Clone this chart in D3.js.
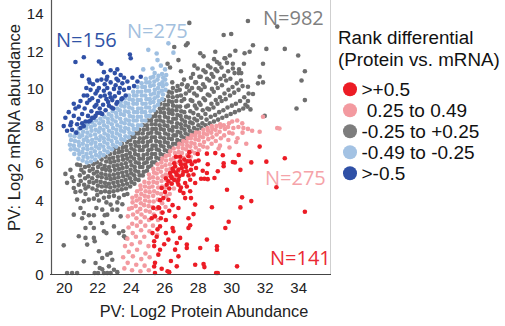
<!DOCTYPE html>
<html><head><meta charset="utf-8">
<script src="https://cdn.jsdelivr.net/npm/d3@7"></script>
<style>body{margin:0;background:#fff;}svg{display:block;}</style>
</head><body><svg id="c" width="505" height="326"></svg>
<script>
const xTicks=[20,22,24,26,28,30,32,34];
const yTicks=[0,2,4,6,8,10,12,14];
const legendTitle=["Rank differential","(Protein vs. mRNA)"];
const legendLabels=[">+0.5"," 0.25 to 0.49","-0.25 to +0.25","-0.49 to -0.25",">-0.5"];
const countLabels=["N=141","N=275","N=982","N=275","N=156"];

const red=[[28.0,6.45],[28.55,6.47],[29.05,6.5],[29.5,6.38],[30.1,6.02],[30.22,6.0],[27.45,6.33],[27.55,6.06],[28.05,6.1],[28.6,5.9],[29.2,5.52],[29.55,5.79],[28.55,5.43],[29.0,5.16],[28.2,5.12],[28.4,5.12],[28.6,5.1],[29.75,4.53],[28.85,3.59],[29.65,2.47],[28.55,1.85],[29.15,1.49],[29.15,1.3],[30.35,0.41],[27.85,0.5],[28.35,0.54],[28.4,0.37],[29.1,0.05],[29.2,0.05],[27.55,2.62],[28.15,1.4],[27.35,1.58],[27.35,1.4],[26.75,1.67],[26.95,1.94],[26.65,1.31],[26.85,0.95],[26.25,1.85],[25.4,1.76],[25.4,1.5],[25.65,1.04],[25.45,0.6],[25.4,0.4],[25.85,0.28],[26.2,0.15],[26.3,0.1],[25.45,0.05],[26.75,0.41],[27.45,3.0],[27.75,3.22],[27.45,2.47],[26.5,2.47],[26.55,2.3],[25.75,2.56],[25.6,2.4],[25.25,3.0],[25.8,3.0],[25.65,3.58],[26.65,3.1],[26.85,3.55],[27.6,4.08],[27.85,3.73],[27.25,4.08],[27.15,4.35],[27.55,4.45],[26.95,4.48],[26.85,4.8],[27.25,4.89],[27.55,5.07],[27.85,4.89],[26.25,4.98],[26.45,4.85],[25.85,4.62],[26.05,4.41],[25.95,4.08],[26.25,3.99],[25.7,3.55],[25.35,3.55],[26.75,5.34],[26.55,5.52],[26.85,5.61],[27.05,5.7],[27.25,5.88],[26.65,5.79],[26.35,5.43],[26.45,5.16],[26.85,5.07],[27.1,5.34],[27.35,5.52],[27.4,6.06],[26.95,6.06],[26.15,4.8],[25.75,3.97],[25.45,3.1],
[31.7,6.85],[33.2,6.22],[32.1,6.04],[31.2,6.0],[30.55,5.6],[32.7,4.66],[30.65,4.12],[31.2,3.92],[30.55,3.58],[34.4,3.35],[29.85,2.81],[30.45,6.4],[29.55,5.95],
[26.6,5.95],[26.7,5.45],[26.9,5.25],[27.0,5.9],[27.15,5.5],[27.2,6.15],[27.3,5.75],[27.45,5.3],[27.6,5.6],[27.65,5.9],[26.5,5.65],[26.4,5.25],[26.6,5.05],[26.8,4.95],[27.0,4.65],[27.35,4.7],[27.75,5.35],[27.9,5.7],[26.3,4.6],[26.1,5.15],[26.95,6.3],[27.5,6.55],[26.7,6.3],[27.85,6.05],[28.3,5.55],
[25.9,3.3],[26.1,2.9],[26.3,3.4],[25.55,2.0],[26.0,1.6],[25.75,1.3],[26.4,0.7],[26.1,2.2],[25.3,2.2],[26.5,3.7]];

const pink=[[23.62,0.3],[23.55,0.9],[23.66,1.5],
[23.82,0.6],[23.88,1.2],[23.8,1.9],[23.87,2.5],[23.83,3.1],[23.9,3.5],
[24.08,0.2],[24.13,0.95],[24.06,1.6],[24.12,2.2],[24.09,2.7],[24.14,3.2],[24.07,3.55],[24.11,3.85],[24.1,4.1],
[24.33,0.5],[24.38,1.3],[24.31,2.0],[24.37,2.6],[24.34,3.0],[24.4,3.35],[24.3,3.65],[24.36,3.95],[24.33,4.2],[24.38,4.45],
[24.58,0.15],[24.63,0.8],[24.56,1.7],[24.62,2.35],[24.59,2.8],[24.64,3.2],[24.57,3.5],[24.61,3.8],[24.55,4.05],[24.63,4.3],[24.6,4.55],[24.58,4.75],
[24.83,0.45],[24.88,1.1],[24.81,2.0],[24.87,2.6],[24.84,3.05],[24.9,3.4],[24.8,3.7],[24.86,3.95],[24.83,4.2],[24.89,4.45],[24.85,4.7],[24.82,4.95],
[25.08,0.2],[25.13,0.9],[25.06,1.5],[25.12,2.3],[25.09,2.9],[25.14,3.35],[25.07,3.65],[25.11,3.9],[25.05,4.15],[25.13,4.4],[25.1,4.65],[25.08,4.9],[25.12,5.15],[25.09,5.35],
[25.33,2.6],[25.38,3.2],[25.31,3.6],[25.37,3.9],[25.34,4.2],[25.4,4.45],[25.3,4.7],[25.36,4.95],[25.33,5.2],[25.39,5.45],[25.35,5.65],
[25.58,2.1],[25.63,2.9],[25.56,3.5],[25.62,4.0],[25.59,4.35],[25.64,4.65],[25.57,4.9],[25.61,5.15],[25.55,5.4],[25.63,5.65],[25.6,5.9],
[25.83,3.3],[25.88,3.8],[25.81,4.3],[25.87,4.7],[25.84,5.0],[25.9,5.25],[25.8,5.5],[25.86,5.75],[25.83,6.0],[25.89,6.2],
[26.08,3.6],[26.13,4.2],[26.06,4.65],[26.12,5.05],[26.09,5.35],[26.14,5.6],[26.07,5.85],[26.11,6.1],[26.1,6.35],
[26.33,4.3],[26.38,4.9],[26.31,5.3],[26.37,5.65],[26.34,5.9],[26.4,6.15],[26.3,6.4],[26.36,6.6],
[26.58,4.6],[26.63,5.2],[26.56,5.7],[26.62,6.0],[26.59,6.25],[26.64,6.5],[26.57,6.75],
[26.83,5.5],[26.88,6.0],[26.81,6.3],[26.87,6.55],[26.84,6.8],[26.9,7.0],
[27.08,5.9],[27.13,6.25],[27.06,6.5],[27.12,6.75],[27.09,6.95],[27.14,7.15],
[27.33,6.05],[27.38,6.4],[27.31,6.7],[27.37,6.9],[27.34,7.1],[27.4,7.3],
[27.58,6.3],[27.63,6.6],[27.56,6.85],[27.62,7.05],[27.59,7.3],[27.64,7.45],
[27.83,6.5],[27.88,6.8],[27.81,7.0],[27.87,7.25],[27.84,7.45],[27.9,7.6],
[28.08,6.65],[28.13,6.95],[28.06,7.2],[28.12,7.4],[28.09,7.6],
[28.33,6.85],[28.38,7.1],[28.31,7.35],[28.37,7.55],[28.34,7.75],
[28.58,6.8],[28.63,7.25],[28.56,7.5],[28.62,7.7],[28.59,7.85],
[28.83,7.0],[28.88,7.35],[28.81,7.6],[28.87,7.8],[28.84,7.95],
[29.08,7.15],[29.13,7.5],[29.06,7.75],[29.12,7.95],
[29.33,6.9],[29.38,7.3],[29.31,7.65],[29.37,7.9],[29.34,8.05],
[29.58,7.45],[29.63,7.8],[29.56,8.0],
[29.83,7.2],[29.88,7.6],[29.81,7.9],[29.87,8.1],
[30.08,7.55],[30.13,7.85],[30.06,8.2],
[30.38,7.3],[30.43,7.9],[30.36,8.25],
[30.68,7.6],[30.73,7.85],[30.66,8.1],
[31.0,7.8],[31.9,8.45],[32.75,7.85],[32.88,7.82],[31.25,7.7],[30.9,7.0],[31.7,7.65],[29.9,6.8],[29.25,6.75],[30.3,7.1]];

const gray=[[21.02,5.0],[20.96,5.3],[21.05,5.6],[20.98,5.85],
[21.22,4.8],[21.28,5.15],[21.2,5.45],[21.27,5.75],
[21.47,4.7],[21.53,4.95],[21.46,5.25],[21.55,5.55],[21.5,5.8],
[21.72,4.6],[21.78,4.9],[21.7,5.15],[21.8,5.4],[21.74,5.65],[21.77,5.9],
[21.97,4.5],[22.04,4.75],[21.96,5.0],[22.03,5.25],[21.99,5.5],[22.05,5.75],[21.98,6.0],
[22.22,4.4],[22.28,4.7],[22.21,4.95],[22.27,5.2],[22.24,5.4],[22.3,5.65],[22.2,5.9],[22.26,6.15],
[22.47,4.45],[22.53,4.7],[22.46,4.9],[22.55,5.15],[22.49,5.35],[22.52,5.6],[22.45,5.8],[22.54,6.05],[22.5,6.3],
[22.72,4.4],[22.78,4.65],[22.7,4.85],[22.8,5.1],[22.74,5.3],[22.77,5.55],[22.71,5.75],[22.79,6.0],[22.73,6.2],[22.76,6.45],
[22.97,4.45],[23.04,4.7],[22.96,4.9],[23.03,5.15],[22.99,5.35],[23.05,5.6],[22.98,5.8],[23.02,6.05],[22.95,6.25],[23.04,6.5],[23.0,6.7],
[23.22,4.5],[23.28,4.75],[23.21,4.95],[23.27,5.2],[23.24,5.4],[23.3,5.65],[23.2,5.85],[23.26,6.1],[23.23,6.3],[23.29,6.55],[23.25,6.75],
[23.47,4.55],[23.53,4.8],[23.46,5.0],[23.55,5.25],[23.49,5.45],[23.52,5.7],[23.45,5.9],[23.54,6.15],[23.5,6.35],[23.48,6.6],[23.53,6.8],[23.47,7.0],
[23.72,4.6],[23.78,4.85],[23.7,5.05],[23.8,5.3],[23.74,5.5],[23.77,5.75],[23.71,5.95],[23.79,6.2],[23.73,6.4],[23.76,6.65],[23.72,6.85],[23.78,7.1],
[23.97,4.7],[24.04,4.95],[23.96,5.15],[24.03,5.4],[23.99,5.6],[24.05,5.85],[23.98,6.05],[24.02,6.3],[23.95,6.5],[24.04,6.75],[24.0,6.95],[23.97,7.2],[24.03,7.35],
[24.22,4.85],[24.28,5.1],[24.21,5.3],[24.27,5.55],[24.24,5.75],[24.3,6.0],[24.2,6.2],[24.26,6.45],[24.23,6.65],[24.29,6.9],[24.25,7.1],[24.22,7.35],[24.28,7.55],
[24.47,5.05],[24.53,5.3],[24.46,5.5],[24.55,5.75],[24.49,5.95],[24.52,6.2],[24.45,6.4],[24.54,6.65],[24.5,6.85],[24.48,7.1],[24.53,7.3],[24.47,7.55],[24.51,7.75],
[24.72,5.3],[24.78,5.5],[24.7,5.75],[24.8,5.95],[24.74,6.2],[24.77,6.4],[24.71,6.65],[24.79,6.85],[24.73,7.1],[24.76,7.3],[24.72,7.55],[24.78,7.75],[24.74,8.0],
[24.97,5.55],[25.04,5.75],[24.96,6.0],[25.03,6.2],[24.99,6.45],[25.05,6.65],[24.98,6.9],[25.02,7.1],[24.95,7.35],[25.04,7.55],[25.0,7.8],[24.97,8.0],[25.03,8.25],
[25.22,5.8],[25.28,6.0],[25.21,6.25],[25.27,6.45],[25.24,6.7],[25.3,6.9],[25.2,7.15],[25.26,7.35],[25.23,7.6],[25.29,7.8],[25.25,8.05],[25.22,8.25],[25.28,8.45],
[25.47,6.0],[25.53,6.25],[25.46,6.45],[25.55,6.7],[25.49,6.9],[25.52,7.15],[25.45,7.35],[25.54,7.6],[25.5,7.8],[25.48,8.05],[25.53,8.25],[25.47,8.5],[25.51,8.7],
[25.72,6.2],[25.78,6.45],[25.7,6.65],[25.8,6.9],[25.74,7.1],[25.77,7.35],[25.71,7.55],[25.79,7.8],[25.73,8.0],[25.76,8.25],[25.72,8.45],[25.78,8.7],[25.74,8.9],[25.77,9.15],
[25.97,6.4],[26.04,6.65],[25.96,6.85],[26.03,7.1],[25.99,7.3],[26.05,7.55],[25.98,7.75],[26.02,8.0],[25.95,8.2],[26.04,8.45],[26.0,8.65],[25.97,8.9],[26.03,9.1],[25.99,9.35],
[26.22,6.6],[26.28,6.85],[26.21,7.05],[26.27,7.3],[26.24,7.5],[26.3,7.75],[26.2,7.95],[26.26,8.2],[26.23,8.4],[26.29,8.65],[26.25,8.85],[26.22,9.1],[26.28,9.3],[26.24,9.55],[26.27,9.8],
[26.47,6.8],[26.53,7.0],[26.46,7.25],[26.55,7.45],[26.49,7.7],[26.52,7.9],[26.45,8.15],[26.54,8.35],[26.5,8.6],[26.48,8.8],[26.53,9.05],[26.47,9.25],[26.51,9.5],[26.46,9.75],[26.52,10.0],[26.48,10.3],
[26.72,7.0],[26.78,7.2],[26.7,7.45],[26.8,7.65],[26.74,7.9],[26.77,8.1],[26.71,8.35],[26.79,8.55],[26.73,8.8],[26.76,9.0],[26.72,9.3],[26.78,9.55],[26.74,9.85],[26.8,10.1],
[26.97,7.15],[27.04,7.4],[26.96,7.6],[27.03,7.85],[26.99,8.05],[27.05,8.3],[26.98,8.5],[27.02,8.75],[26.95,9.0],[27.04,9.3],[27.0,9.6],[26.93,9.9],[27.06,10.2],
[27.22,7.3],[27.28,7.55],[27.21,7.75],[27.27,8.0],[27.24,8.2],[27.3,8.45],[27.2,8.7],[27.31,9.0],[27.19,9.4],[27.29,9.7],[27.35,10.05],[27.18,10.45],
[27.47,7.45],[27.53,7.7],[27.46,7.9],[27.55,8.15],[27.49,8.4],[27.56,8.75],[27.42,9.05],[27.58,9.35],[27.5,9.85],[27.4,10.15],[27.6,10.55],
[27.72,7.6],[27.78,7.85],[27.7,8.1],[27.8,8.35],[27.74,8.65],[27.83,9.05],[27.68,9.3],[27.79,9.7],[27.66,10.0],[27.85,10.3],[27.72,10.75],
[27.97,7.75],[28.04,8.0],[27.96,8.25],[28.03,8.55],[27.93,8.9],[28.09,9.2],[27.95,9.6],[28.06,10.0],[27.9,10.3],[28.1,10.6],[28.0,11.05],
[28.22,7.85],[28.28,8.1],[28.21,8.4],[28.3,8.8],[28.17,9.1],[28.35,9.45],[28.2,9.9],[28.32,10.2],[28.18,10.6],[28.34,10.95],
[28.47,8.0],[28.53,8.3],[28.46,8.6],[28.58,8.9],[28.44,9.35],[28.6,9.65],[28.42,10.05],[28.56,10.5],[28.47,10.85],[28.62,11.2],
[28.72,8.1],[28.78,8.45],[28.68,8.85],[28.82,9.15],[28.7,9.6],[28.85,9.95],[28.69,10.4],[28.83,10.75],[28.76,11.1],
[28.97,8.2],[29.04,8.55],[28.94,8.95],[29.08,9.35],[28.96,9.8],[29.1,10.25],[28.93,10.6],[29.06,11.0],[28.98,11.55],
[29.22,8.3],[29.28,8.7],[29.18,9.15],[29.33,9.5],[29.2,10.0],[29.36,10.5],[29.17,10.9],[29.3,11.3],
[29.47,8.4],[29.53,8.8],[29.43,9.3],[29.6,9.7],[29.45,10.15],[29.58,10.65],[29.42,11.1],[29.6,11.6],
[29.72,8.5],[29.78,8.95],[29.67,9.4],[29.84,9.9],[29.7,10.4],[29.82,10.9],[29.75,11.35],
[29.97,8.6],[30.04,9.05],[29.93,9.6],[30.08,10.05],[29.95,10.5],[30.1,11.05],[29.92,11.75],
[30.22,8.7],[30.28,9.15],[30.18,9.75],[30.33,10.25],[30.2,10.8],
[30.47,8.8],[30.53,9.3],[30.44,9.9],[30.58,10.4],[30.47,11.0],
[30.72,8.9],[30.78,9.5],[30.68,10.1],[30.76,11.3],
[30.97,9.0],[31.04,9.7],
[31.0,13.6],[32.75,13.3],[27.5,13.5],[29.55,12.85],[30.0,12.9],[31.3,12.3],[30.8,11.87],[31.1,11.95],[32.1,12.1],[33.2,12.1],[34.0,11.75],[31.9,11.3],[34.4,10.9],[34.2,10.4],[34.4,9.35],[33.9,8.9],[31.7,10.6],[31.9,10.3],[31.6,10.25],[31.0,10.07],[31.3,9.68],[30.6,10.8],[30.85,9.1],[31.15,8.85],[31.0,9.3],[32.0,8.5],[27.3,12.3],[27.4,12.4],[28.15,11.87],[28.35,11.7],[29.05,11.95],[29.15,11.4],[29.65,11.6],[30.1,11.3],[30.25,12.0],[30.45,10.8],[26.85,11.5],[26.2,11.3],[26.35,11.1],[27.0,10.9],[27.8,11.2],[26.6,12.2],
[20.1,5.38],[20.8,5.88],[20.2,4.9],[20.6,4.62],[20.7,4.41],[21.0,4.45],[20.8,4.0],[21.2,3.91],[21.5,4.0],[21.8,4.05],[22.1,3.95],[21.0,3.55],[20.6,3.19],[21.2,3.28],[21.5,3.16],[21.8,3.16],[22.45,3.16],[22.6,3.19],[22.9,3.46],[22.3,3.46],[21.95,3.55],[22.8,3.73],[23.2,3.46],[23.4,3.1],[21.1,3.0],[21.6,2.74],[21.8,2.47],[21.3,2.47],[22.3,2.74],[22.4,2.3],[22.55,2.2],[23.0,2.56],[23.3,2.2],[23.6,2.03],[23.55,2.3],[20.9,2.03],[21.3,1.94],[21.4,1.58],[21.8,1.94],[21.85,1.76],[20.0,1.54],[22.1,1.22],[22.3,0.86],[22.6,1.04],[22.8,1.13],[22.9,0.77],[21.2,0.68],[21.9,0.59],[22.15,0.32],[22.3,0.25],[20.2,0.05],[20.5,0.05],[20.8,0.05],[21.85,0.05],[22.05,0.05],[22.4,0.05],[22.6,0.05],[22.8,0.05],[23.0,0.23],[23.2,0.1],[22.7,0.41],[23.7,1.94],
[22.4,4.1],[22.7,4.15],[23.0,4.2],[23.3,4.1],[23.6,4.25],[23.2,3.85],[22.55,3.85],[23.5,3.75],[23.8,4.3],[22.0,4.25],[21.3,4.3],[20.9,4.8],[21.3,4.6],[20.5,5.2],[20.4,5.6],[20.6,5.0]];

const lightBlue=[[20.42,6.7],[20.37,6.95],[20.44,7.2],[20.39,7.45],
[20.63,6.45],[20.68,6.7],[20.6,6.9],[20.67,7.15],[20.64,7.4],[20.7,7.6],
[20.88,6.2],[20.93,6.45],[20.86,6.65],[20.92,6.9],[20.89,7.1],[20.94,7.35],[20.87,7.55],[20.91,7.8],
[21.13,6.1],[21.18,6.3],[21.11,6.55],[21.17,6.75],[21.14,7.0],[21.2,7.2],[21.1,7.45],[21.16,7.65],[21.13,7.9],
[21.38,6.0],[21.43,6.25],[21.36,6.45],[21.42,6.7],[21.39,6.9],[21.44,7.15],[21.37,7.35],[21.41,7.6],[21.35,7.85],[21.43,8.05],
[21.63,6.05],[21.68,6.3],[21.61,6.5],[21.67,6.75],[21.64,7.0],[21.7,7.2],[21.6,7.45],[21.66,7.7],[21.63,7.9],[21.69,8.15],
[21.88,6.15],[21.93,6.4],[21.86,6.6],[21.92,6.85],[21.89,7.05],[21.94,7.3],[21.87,7.5],[21.91,7.75],[21.85,8.0],[21.93,8.25],
[22.13,6.3],[22.18,6.5],[22.11,6.75],[22.17,6.95],[22.14,7.2],[22.2,7.4],[22.1,7.65],[22.16,7.85],[22.13,8.1],[22.19,8.35],
[22.38,6.4],[22.43,6.65],[22.36,6.85],[22.42,7.1],[22.39,7.3],[22.44,7.55],[22.37,7.75],[22.41,8.0],[22.35,8.2],[22.43,8.45],
[22.63,6.55],[22.68,6.8],[22.61,7.0],[22.67,7.25],[22.64,7.45],[22.7,7.7],[22.6,7.9],[22.66,8.15],[22.63,8.35],[22.69,8.6],
[22.88,6.7],[22.93,6.95],[22.86,7.15],[22.92,7.4],[22.89,7.6],[22.94,7.85],[22.87,8.05],[22.91,8.3],[22.85,8.5],[22.93,8.75],
[23.13,6.85],[23.18,7.1],[23.11,7.3],[23.17,7.55],[23.14,7.75],[23.2,8.0],[23.1,8.2],[23.16,8.45],[23.13,8.65],[23.19,8.9],
[23.38,7.0],[23.43,7.25],[23.36,7.45],[23.42,7.7],[23.39,7.9],[23.44,8.15],[23.37,8.35],[23.41,8.6],[23.35,8.8],[23.43,9.05],[23.4,9.25],
[23.63,7.2],[23.68,7.4],[23.61,7.65],[23.67,7.85],[23.64,8.1],[23.7,8.3],[23.6,8.55],[23.66,8.75],[23.63,9.0],[23.69,9.2],[23.65,9.45],
[23.88,7.35],[23.93,7.6],[23.86,7.8],[23.92,8.05],[23.89,8.25],[23.94,8.5],[23.87,8.7],[23.91,8.95],[23.85,9.15],[23.93,9.4],[23.9,9.6],
[24.13,7.55],[24.18,7.8],[24.11,8.0],[24.17,8.25],[24.14,8.45],[24.2,8.7],[24.1,8.9],[24.16,9.15],[24.13,9.35],[24.19,9.6],[24.15,9.8],
[24.38,7.8],[24.43,8.0],[24.36,8.25],[24.42,8.45],[24.39,8.7],[24.44,8.9],[24.37,9.15],[24.41,9.35],[24.35,9.6],[24.43,9.8],[24.4,10.05],
[24.63,8.0],[24.68,8.25],[24.61,8.45],[24.67,8.7],[24.64,8.9],[24.7,9.15],[24.6,9.35],[24.66,9.6],[24.63,9.8],[24.69,10.05],[24.65,10.25],
[24.88,8.25],[24.93,8.5],[24.86,8.7],[24.92,8.95],[24.89,9.15],[24.94,9.4],[24.87,9.6],[24.91,9.85],[24.85,10.05],[24.93,10.3],[24.9,10.5],
[25.13,8.5],[25.18,8.75],[25.11,8.95],[25.17,9.2],[25.14,9.4],[25.2,9.65],[25.1,9.85],[25.16,10.1],[25.13,10.3],[25.19,10.55],
[25.38,8.8],[25.43,9.0],[25.36,9.25],[25.42,9.45],[25.39,9.7],[25.44,9.9],[25.37,10.15],[25.41,10.35],[25.35,10.6],[25.43,10.8],
[25.63,9.1],[25.68,9.3],[25.61,9.55],[25.67,9.75],[25.64,10.0],[25.7,10.2],[25.6,10.45],[25.66,10.65],
[25.88,9.4],[25.93,9.65],[25.86,9.85],[25.92,10.1],[25.89,10.3],[25.94,10.55],[25.87,10.75],
[26.08,9.9],[26.13,10.2],[26.06,10.45],[26.12,10.7],
[25.05,12.05],[25.55,11.85],[26.25,12.4],[26.55,11.9],[25.3,11.05],[25.8,11.2],[26.05,11.0],[24.75,11.0],[25.6,11.5]];

const darkBlue=[[20.7,11.4],[21.2,11.65],[22.1,11.42],[22.25,11.3],[23.2,11.0],[22.8,10.95],[23.05,10.8],[23.95,11.8],[24.0,11.6],[21.1,10.65],[21.5,10.45],[21.55,10.3],[23.4,10.7],[23.5,10.25],[23.8,10.35],[24.1,10.55],[24.4,10.35],[24.6,10.6],[22.6,10.6],[22.4,10.85],[23.15,10.5],
[20.1,8.4],[20.0,7.95],[20.2,7.7],[20.45,8.15],[20.6,8.5],[20.8,8.05],[20.5,7.75],[20.9,8.35],[21.0,7.85],[21.1,8.6],[21.3,8.2],[21.25,8.9],[21.45,8.5],[21.4,9.2],[21.6,8.25],[21.65,8.75],[21.7,9.45],[21.8,8.4],[21.85,9.0],[21.9,9.7],[22.0,8.65],[22.05,9.3],[22.1,10.0],[22.15,8.9],[22.2,9.55],[22.3,8.6],[22.35,9.1],[22.4,9.85],[22.45,10.2],[22.5,8.8],[22.55,9.4],[22.6,10.0],[22.7,9.05],[22.75,9.7],[22.8,10.3],[22.85,8.95],[22.9,9.35],[23.0,9.95],[23.05,9.55],[23.1,10.15],[23.2,9.25],[23.3,9.75],[23.35,10.0],[23.5,9.45],[23.6,9.9],[23.7,9.6],[21.2,9.6],[21.0,9.3],[20.9,9.0],[21.35,10.0],[21.6,9.9],[21.75,10.2],[22.0,10.4],[21.95,9.1],[22.25,10.45],[22.65,9.25],[23.15,9.15],[22.95,8.9],[20.7,8.9],[20.3,8.7],[20.6,9.15],[21.5,8.2],[21.1,8.1],[21.7,8.4],[22.45,9.6],[23.45,9.4],[20.4,8.0],[20.75,7.6],[21.2,7.95],[21.55,9.35],[21.9,8.5],[22.2,8.65],[22.8,9.5],[23.25,10.4],[23.9,10.0],[24.2,10.1],[22.0,9.85],[21.4,9.6],[22.55,10.45],[23.6,10.55]];

// series table built from the arrays (draw order)
const series=[
  {data:gray,color:"#6e6e6e"},
  {data:lightBlue,color:"#9ebfe1"},
  {data:darkBlue,color:"#2f50a6"},
  {data:pink,color:"#f39aa0"},
  {data:red,color:"#ec1c25"}
];
const legendColors=["#ec1c25","#f39aa0","#7d7d7d","#a3c2e3","#2f50a6"];
const countColors=["#ea2a33","#f5a3a9","#808080","#a3c0de","#3053a6"];
const countPos=[[270,264.5],[265,184.5],[263,25],[127,37.5],[56,46.5]];

const svg=d3.select("#c");
const x=d3.scaleLinear().domain([19.3,35.9]).range([52,330]);
const y=d3.scaleLinear().domain([0,14.73]).range([274,0]);

// frame
svg.append("line").attr("x1",330.5).attr("x2",330.5).attr("y1",0).attr("y2",274).attr("stroke","#cfcfcf").attr("stroke-width",1);

// points
series.forEach(s=>{
  svg.append("g").selectAll("circle").data(s.data).join("circle")
    .attr("cx",d=>x(d[0])).attr("cy",d=>y(d[1])).attr("r",2.3).attr("fill",s.color);
});

// axes
const font="Liberation Sans, Arial, sans-serif";
const gx=svg.append("g").attr("transform","translate(0,274)")
  .call(d3.axisBottom(x).tickValues(xTicks).tickSize(0).tickFormat(d3.format("d")));
gx.select(".domain").remove();
gx.selectAll("text").attr("y",19).attr("dy",0).attr("font-size",15).attr("font-family",font).attr("fill","#222");
const gy=svg.append("g").attr("transform","translate(52,0)")
  .call(d3.axisLeft(y).tickValues(yTicks).tickSize(0).tickFormat(d3.format("d")));
gy.select(".domain").remove();
gy.selectAll("text").attr("x",-8.5).attr("dy","0.36em").attr("font-size",15).attr("font-family",font).attr("fill","#222");

svg.append("line").attr("x1",51.5).attr("x2",51.5).attr("y1",0).attr("y2",274.5).attr("stroke","#555").attr("stroke-width",1.2);
svg.append("line").attr("x1",50).attr("x2",331).attr("y1",274.5).attr("y2",274.5).attr("stroke","#444").attr("stroke-width",1.2);

// axis titles
svg.append("text").attr("x",204).attr("y",317).attr("text-anchor","middle")
  .attr("font-size",16.3).attr("font-family",font).attr("fill","#222").text("PV: Log2 Protein Abundance");
svg.append("text").attr("transform","translate(20,127.5) rotate(-90)").attr("text-anchor","middle")
  .attr("font-size",16.6).attr("font-family",font).attr("fill","#222").text("PV: Log2 mRNA abundance");

// count annotations
svg.append("g").selectAll("text").data(countLabels).join("text")
  .attr("x",(d,i)=>countPos[i][0]).attr("y",(d,i)=>countPos[i][1])
  .attr("font-size",20).attr("font-family","Open Sans, sans-serif")
  .attr("fill",(d,i)=>countColors[i]).text(d=>d);

// legend
svg.append("g").selectAll("text").data(legendTitle).join("text")
  .attr("x",338).attr("y",(d,i)=>44+i*22.3)
  .attr("font-size",18.8).attr("font-family",font).attr("fill","#111").text(d=>d);
const lg=svg.append("g").selectAll("g").data(legendLabels).join("g")
  .attr("transform",(d,i)=>`translate(350,${89.3+i*21})`);
lg.append("circle").attr("r",7).attr("fill",(d,i)=>legendColors[i]);
lg.append("text").attr("x",11.5).attr("dy","0.35em").style("white-space","pre")
  .attr("font-size",19).attr("font-family",font).attr("fill","#111").text(d=>d);
</script></body></html>
